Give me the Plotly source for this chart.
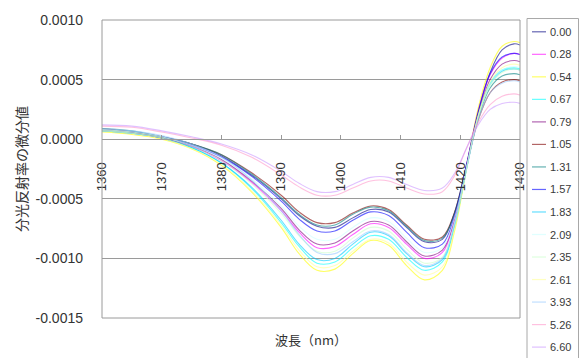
import plotly.graph_objects as go

# Wavelength grid (nm)
wavelength = [1360, 1365, 1370, 1375, 1380, 1385, 1390, 1393, 1396, 1399, 1402,
              1405, 1408, 1411, 1414, 1417, 1419, 1421, 1423, 1425, 1427, 1429, 1430]

# Series labels and first-derivative spectra (values in units of 1e-4)
labels = ["0.00", "0.28", "0.54", "0.67", "0.79", "1.05", "1.31", "1.57",
          "1.83", "2.09", "2.35", "2.61", "3.93", "5.26", "6.60"]

d_000 = [0.8, 0.6, 0.2, -0.4, -1.4, -3.0, -5.0, -6.4, -7.3, -7.4, -6.6, -5.9, -6.1, -7.4, -8.6, -8.4, -6.2, -2.2, 2.3, 5.6, 7.5, 8.0, 7.9]
d_028 = [0.7, 0.5, 0.1, -0.6, -1.8, -3.6, -6.0, -7.8, -9.1, -9.0, -8.0, -7.1, -7.4, -8.8, -10.0, -9.5, -6.8, -2.3, 2.4, 5.4, 6.8, 7.2, 7.1]
d_054 = [0.6, 0.4, 0.0, -0.8, -2.2, -4.4, -7.4, -9.6, -11.0, -10.9, -9.6, -8.5, -8.9, -10.6, -11.8, -11.0, -7.8, -2.6, 2.6, 6.0, 7.8, 8.2, 8.1]
d_067 = [0.7, 0.5, 0.1, -0.7, -2.0, -4.1, -7.0, -9.0, -10.4, -10.3, -9.1, -8.1, -8.4, -9.9, -11.0, -10.3, -7.4, -2.6, 2.0, 4.7, 5.8, 6.0, 5.9]
d_079 = [0.8, 0.6, 0.1, -0.6, -1.7, -3.5, -5.8, -7.6, -8.8, -8.7, -7.7, -6.9, -7.2, -8.6, -9.8, -9.3, -6.8, -2.4, 2.1, 5.0, 6.3, 6.6, 6.5]
d_105 = [0.9, 0.6, 0.2, -0.4, -1.3, -2.8, -4.7, -6.1, -7.0, -7.0, -6.2, -5.6, -5.9, -7.2, -8.4, -8.2, -6.2, -2.4, 1.6, 3.9, 4.8, 5.0, 4.9]
d_131 = [0.9, 0.7, 0.2, -0.4, -1.3, -2.9, -4.9, -6.3, -7.2, -7.2, -6.3, -5.7, -6.0, -7.3, -8.5, -8.3, -6.3, -2.4, 1.8, 4.3, 5.3, 5.5, 5.4]
d_157 = [0.8, 0.6, 0.2, -0.5, -1.5, -3.1, -5.2, -6.7, -7.7, -7.7, -6.8, -6.1, -6.4, -7.8, -9.1, -8.8, -6.5, -2.3, 2.3, 5.5, 6.9, 7.2, 7.1]
d_183 = [0.7, 0.5, 0.1, -0.7, -2.0, -4.0, -6.8, -8.8, -10.1, -10.0, -8.8, -7.8, -8.1, -9.6, -10.7, -10.1, -7.3, -2.6, 1.9, 4.6, 5.7, 5.9, 5.8]
d_209 = [0.8, 0.6, 0.2, -0.5, -1.6, -3.3, -5.6, -7.3, -8.4, -8.4, -7.4, -6.6, -6.9, -8.3, -9.5, -9.1, -6.7, -2.5, 1.9, 4.6, 5.8, 6.1, 6.0]
d_235 = [0.8, 0.6, 0.2, -0.6, -1.8, -3.7, -6.2, -8.1, -9.4, -9.4, -8.3, -7.4, -7.7, -9.2, -10.4, -9.9, -7.1, -2.5, 1.9, 4.5, 5.6, 5.9, 5.8]
d_261 = [0.7, 0.5, 0.1, -0.8, -2.1, -4.3, -7.2, -9.3, -10.7, -10.6, -9.4, -8.4, -8.7, -10.3, -11.4, -10.7, -7.6, -2.6, 2.0, 4.8, 6.0, 6.3, 6.2]
d_393 = [0.9, 0.7, 0.3, -0.4, -1.5, -3.4, -6.0, -8.0, -9.5, -9.6, -8.6, -7.7, -8.0, -9.5, -10.6, -10.0, -7.2, -2.6, 1.6, 3.9, 4.7, 4.9, 4.8]
d_526 = [1.1, 1.0, 0.6, 0.1, -0.5, -1.5, -3.0, -4.0, -4.7, -4.7, -4.1, -3.5, -3.5, -4.1, -4.6, -4.4, -3.1, -0.8, 1.4, 2.9, 3.6, 3.8, 3.7]
d_660 = [1.2, 1.1, 0.7, 0.2, -0.4, -1.3, -2.7, -3.7, -4.4, -4.4, -3.8, -3.2, -3.2, -3.8, -4.3, -4.1, -2.9, -0.8, 1.2, 2.5, 3.0, 3.1, 3.0]

series = [d_000, d_028, d_054, d_067, d_079, d_105, d_131, d_157,
          d_183, d_209, d_235, d_261, d_393, d_526, d_660]
unit = 1e-4

colors = ["#000080", "#FF00FF", "#FFFF00", "#00FFFF", "#800080", "#800000",
          "#008080", "#0000FF", "#00CCFF", "#CCFFFF", "#CCFFCC", "#FFFF99",
          "#99CCFF", "#FF99CC", "#CC99FF"]

x_ticks = [1360, 1370, 1380, 1390, 1400, 1410, 1420, 1430]
y_ticks = [0.0010, 0.0005, 0.0, -0.0005, -0.0010, -0.0015]
y_ticktext = ["0.0010", "0.0005", "0.0000", "-0.0005", "-0.0010", "-0.0015"]

FONT = "Liberation Sans, Arial, sans-serif"
CJK = "Noto Sans CJK JP, sans-serif"
GRID = "#9a9a9a"

fig = go.Figure()
for lab, vals, col in zip(labels, series, colors):
    fig.add_trace(go.Scatter(
        x=wavelength, y=[v * unit for v in vals], name=lab, mode="lines",
        line=dict(color=col, width=1.1, shape="spline", smoothing=1.0),
        opacity=0.6, showlegend=False, hoverinfo="skip"))

# Plot geometry in pixels (used for the hand-made legend)
W, H = 580, 358
ML, MR, MT, MB = 102, 60, 15, 40
pw, ph = W - ML - MR, H - MT - MB


def px_x(px):
    return (px - ML) / pw


def px_y(py):
    return (H - MB - py) / ph


shapes = []
annotations = []

# Plot area frame
shapes.append(dict(type="rect", xref="paper", yref="paper", x0=0, x1=1, y0=0, y1=1,
                   line=dict(color=GRID, width=1), layer="above"))

# Legend box
shapes.append(dict(type="rect", xref="paper", yref="paper",
                   x0=px_x(527), x1=px_x(578.5), y0=px_y(362), y1=px_y(13.5),
                   line=dict(color="#a8a8a8", width=1), fillcolor="white"))
row0, step = 27, 22.9
for i, (lab, col) in enumerate(zip(labels, colors)):
    yy = row0 + i * step
    shapes.append(dict(type="line", xref="paper", yref="paper",
                       x0=px_x(532), x1=px_x(546), y0=px_y(yy), y1=px_y(yy),
                       line=dict(color=col, width=1.2), opacity=0.6))
    annotations.append(dict(xref="paper", yref="paper", x=px_x(548), y=px_y(yy),
                            text=lab, showarrow=False, xanchor="left", yanchor="middle",
                            font=dict(family=FONT, size=11, color="#3a3a3a")))

# X axis title at the bottom of the chart
annotations.append(dict(xref="paper", yref="paper", x=0.5, y=px_y(340),
                        text="波長（nm）", showarrow=False, xanchor="center",
                        yanchor="middle", font=dict(family=CJK, size=13, color="#333")))

y_min, y_max = -0.0015, 0.0010
fig.update_layout(
    width=W, height=H,
    margin=dict(l=ML, r=MR, t=MT, b=MB, pad=0),
    paper_bgcolor="white", plot_bgcolor="white",
    shapes=shapes, annotations=annotations,
    xaxis=dict(range=[1360, 1430], tickvals=x_ticks, tickangle=-90,
               anchor="free", position=(0 - y_min) / (y_max - y_min),
               showline=True, linecolor=GRID, linewidth=1,
               ticks="inside", ticklen=4, tickcolor=GRID,
               ticklabelstandoff=17,
               showgrid=False, zeroline=False,
               tickfont=dict(family=FONT, size=13, color="#333")),
    yaxis=dict(range=[y_min, y_max], tickvals=y_ticks, ticktext=y_ticktext,
               showgrid=True, gridcolor=GRID, gridwidth=1, zeroline=False,
               showline=False, ticks="", ticklabelstandoff=18,
               tickfont=dict(family=FONT, size=14, color="#333"),
               title=dict(text="分光反射率の微分値", standoff=4,
                          font=dict(family=CJK, size=14, color="#333"))),
)

fig.write_html("out.html")
